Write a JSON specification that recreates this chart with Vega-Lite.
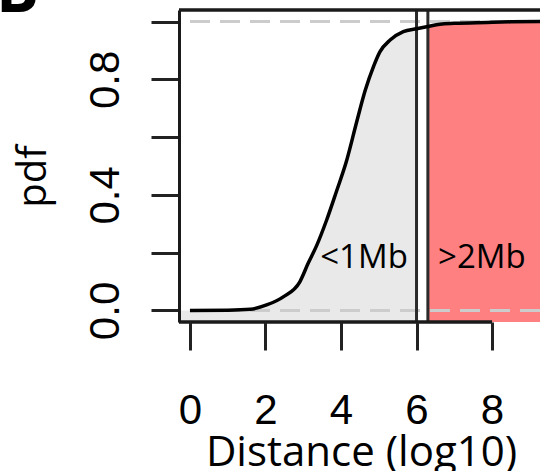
{
  "$schema": "https://vega.github.io/schema/vega-lite/v6.json",
  "autosize": {"type": "none"},
  "padding": {"left": 179, "top": 10, "right": 0, "bottom": 149},
  "width": 361,
  "height": 312,
  "background": "white",
  "config": {"view": {"stroke": null}, "font": "Open Sans"},
  "title": {"text": "B", "anchor": "start", "frame": "group", "fontSize": 64, "fontWeight": "bold", "font": "Open Sans", "color": "black", "dx": -183, "dy": 67, "offset": 0, "baseline": "alphabetic"},
  "datasets": {
    "curve": [
      {"x": 0, "y": 0}, {"x": 1.0, "y": 0.001}, {"x": 1.6, "y": 0.004}, {"x": 2.03, "y": 0.019},
      {"x": 2.47, "y": 0.047}, {"x": 2.91, "y": 0.099}, {"x": 3.13, "y": 0.163}, {"x": 3.36, "y": 0.226},
      {"x": 3.62, "y": 0.313}, {"x": 3.89, "y": 0.416}, {"x": 4.13, "y": 0.51}, {"x": 4.42, "y": 0.655},
      {"x": 4.64, "y": 0.761}, {"x": 4.86, "y": 0.844}, {"x": 5.03, "y": 0.895}, {"x": 5.3, "y": 0.936},
      {"x": 5.65, "y": 0.965}, {"x": 6.0, "y": 0.975}, {"x": 6.301, "y": 0.983}, {"x": 6.62, "y": 0.991},
      {"x": 7.0, "y": 0.994}, {"x": 7.86, "y": 0.997}, {"x": 8.5, "y": 0.999}, {"x": 9.27, "y": 1.0}
    ],
    "zones": [
      {"zone": "near", "x": -0.29, "y": 0}, {"zone": "near", "x": 0, "y": 0}, {"zone": "near", "x": 1.0, "y": 0.001},
      {"zone": "near", "x": 1.6, "y": 0.004}, {"zone": "near", "x": 2.03, "y": 0.019}, {"zone": "near", "x": 2.47, "y": 0.047},
      {"zone": "near", "x": 2.91, "y": 0.099}, {"zone": "near", "x": 3.13, "y": 0.163}, {"zone": "near", "x": 3.36, "y": 0.226},
      {"zone": "near", "x": 3.62, "y": 0.313}, {"zone": "near", "x": 3.89, "y": 0.416}, {"zone": "near", "x": 4.13, "y": 0.51},
      {"zone": "near", "x": 4.42, "y": 0.655}, {"zone": "near", "x": 4.64, "y": 0.761}, {"zone": "near", "x": 4.86, "y": 0.844},
      {"zone": "near", "x": 5.03, "y": 0.895}, {"zone": "near", "x": 5.3, "y": 0.936}, {"zone": "near", "x": 5.65, "y": 0.965},
      {"zone": "near", "x": 6.0, "y": 0.975},
      {"zone": "far", "x": 6.301, "y": 0.983}, {"zone": "far", "x": 6.62, "y": 0.991}, {"zone": "far", "x": 7.0, "y": 0.994},
      {"zone": "far", "x": 7.86, "y": 0.997}, {"zone": "far", "x": 8.5, "y": 0.999}, {"zone": "far", "x": 9.27, "y": 1.0}
    ],
    "hlines": [{"y": 0}, {"y": 1}],
    "vlines": [{"x": 6}, {"x": 6.301}],
    "labels": [{"x": 4.61, "y": 0.146, "label": "<1Mb"}, {"x": 7.73, "y": 0.146, "label": ">2Mb"}]
  },
  "layer": [
    {
      "data": {"name": "zones"},
      "mark": {"type": "area", "interpolate": "monotone"},
      "encoding": {
        "x": {"field": "x", "type": "quantitative",
          "scale": {"domain": [-0.29, 9.27], "nice": false, "zero": false},
          "axis": {"values": [0, 2, 4, 6, 8], "domain": false, "grid": false, "tickSize": 28, "tickWidth": 3, "tickColor": "#222222",
            "labelFont": "Liberation Sans", "labelFontSize": 42, "labelColor": "black", "labelPadding": 73, "labelBaseline": "alphabetic",
            "labelFlush": false, "labelOverlap": false,
            "title": "Distance (log10)", "titleFont": "Open Sans", "titleFontSize": 42, "titleFontWeight": "normal", "titleColor": "black",
            "titleX": 182, "titleY": 143, "titleBaseline": "alphabetic", "titleAlign": "center", "zindex": 1}},
        "y": {"field": "y", "type": "quantitative", "stack": null,
          "scale": {"domain": [-0.04, 1.04], "nice": false, "zero": false},
          "axis": {"values": [0, 0.2, 0.4, 0.6, 0.8, 1.0], "domain": true, "domainWidth": 3, "domainColor": "#1a1a1a", "grid": false,
            "tickSize": 28, "tickWidth": 3, "tickColor": "#222222",
            "labelAngle": 270, "labelAlign": "center", "labelBaseline": "alphabetic", "labelPadding": 33,
            "labelFont": "Liberation Sans", "labelFontSize": 42, "labelColor": "black", "labelOverlap": false, "labelFlush": false,
            "labelExpr": "(abs(datum.value - 0.2) < 0.01 || abs(datum.value - 0.6) < 0.01 || abs(datum.value - 1) < 0.01) ? '' : format(datum.value, '.1f')",
            "title": "pdf", "titleFont": "Open Sans", "titleFontSize": 40, "titleFontWeight": "normal", "titleColor": "black",
            "titleAngle": 270, "titleAlign": "center", "titleBaseline": "alphabetic", "titleX": -134, "titleY": 166, "zindex": 1}},
        "y2": {"datum": -0.04},
        "color": {"field": "zone", "type": "nominal", "scale": {"domain": ["near", "far"], "range": ["#e9e9e9", "#ff8080"]}, "legend": null}
      }
    },
    {
      "data": {"name": "hlines"},
      "mark": {"type": "rule", "color": "#cccccc", "strokeWidth": 3, "strokeDash": [20, 10]},
      "encoding": {"y": {"field": "y", "type": "quantitative"}}
    },
    {
      "data": {"name": "vlines"},
      "mark": {"type": "rule", "color": "#2a2a2a", "strokeWidth": 3},
      "encoding": {"x": {"field": "x", "type": "quantitative"}}
    },
    {
      "data": {"name": "hlines"},
      "mark": {"type": "rule", "color": "#1a1a1a", "strokeWidth": 3},
      "encoding": {"x": {"datum": -0.29}, "x2": {"datum": 8}, "y": {"datum": -0.04}}
    },
    {
      "data": {"name": "hlines"},
      "mark": {"type": "rule", "color": "#1a1a1a", "strokeWidth": 3},
      "encoding": {"y": {"datum": 1.04}}
    },
    {
      "data": {"name": "curve"},
      "mark": {"type": "line", "interpolate": "monotone", "color": "black", "strokeWidth": 3.5},
      "encoding": {"x": {"field": "x", "type": "quantitative"}, "y": {"field": "y", "type": "quantitative"}}
    },
    {
      "data": {"name": "labels"},
      "mark": {"type": "text", "font": "Open Sans", "fontSize": 33, "baseline": "alphabetic", "align": "center", "color": "black"},
      "encoding": {"x": {"field": "x", "type": "quantitative"}, "y": {"field": "y", "type": "quantitative"}, "text": {"field": "label"}}
    }
  ]
}
